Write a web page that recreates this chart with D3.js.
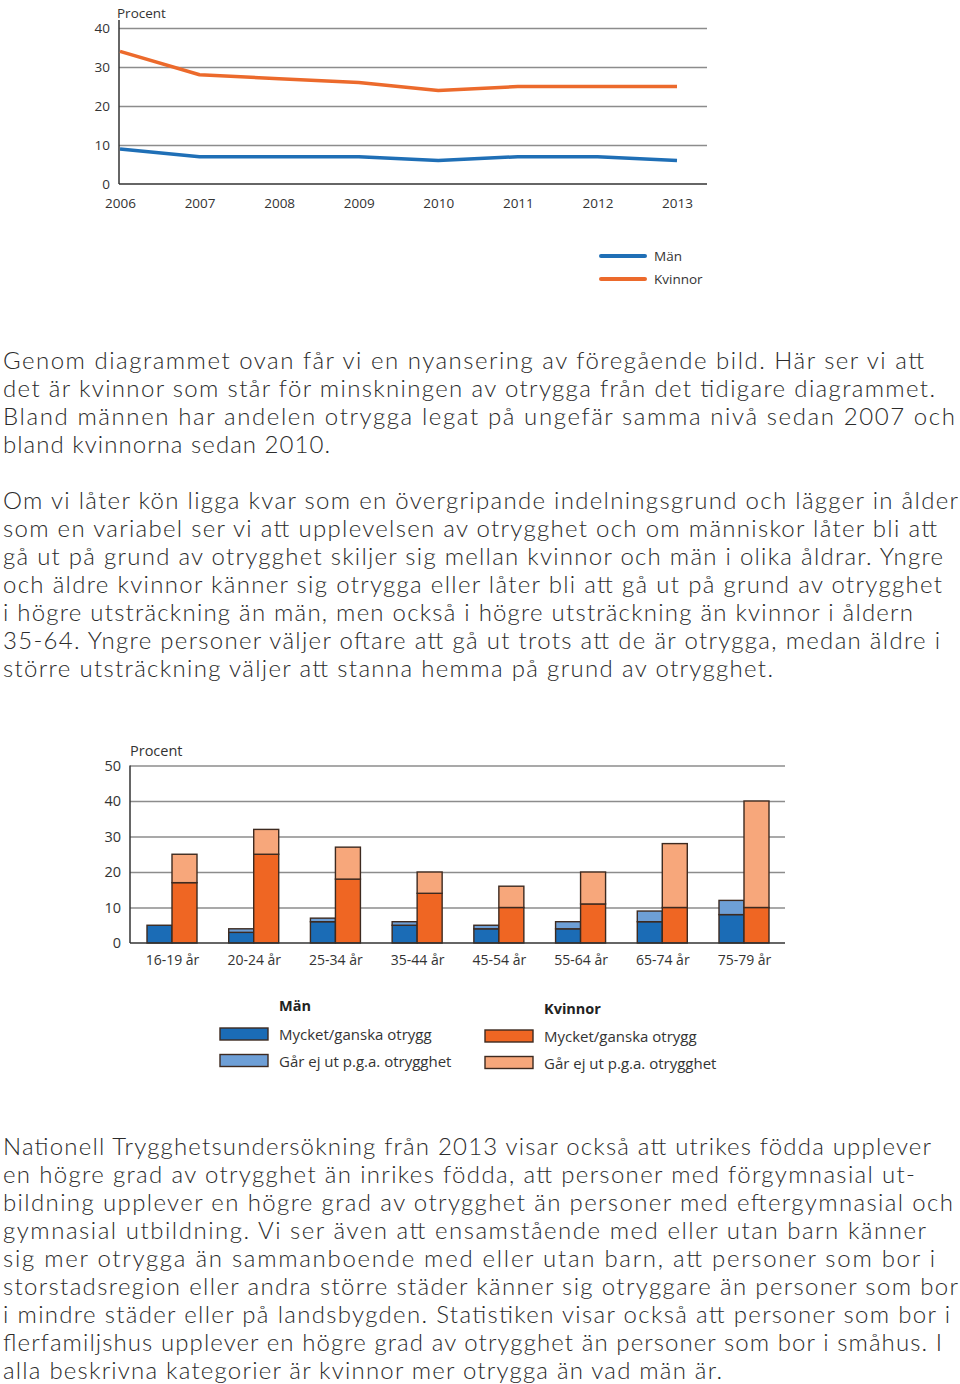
<!DOCTYPE html>
<html>
<head>
<meta charset="utf-8">
<script src="https://cdn.jsdelivr.net/npm/d3@7"></script>
<style>
  html, body { margin: 0; padding: 0; background: #fff; }
  svg { display: block; }
</style>
</head>
<body>
<svg id="page" width="960" height="1384"></svg>
<script>
// ---------- DATA ----------
const years = [2006, 2007, 2008, 2009, 2010, 2011, 2012, 2013];
const manLine = [9, 7, 7, 7, 6, 7, 7, 6];
const kvinnorLine = [34, 28, 27, 26, 24, 25, 25, 25];
const lineTicks = [0, 10, 20, 30, 40];

const ageGroups = ["16-19 år", "20-24 år", "25-34 år", "35-44 år", "45-54 år", "55-64 år", "65-74 år", "75-79 år"];
const manOtrygg = [5, 3, 6, 5, 4, 4, 6, 8];
const manGarEj = [0, 1, 1, 1, 1, 2, 3, 4];
const kvinnorOtrygg = [17, 25, 18, 14, 10, 11, 10, 10];
const kvinnorGarEj = [8, 7, 9, 6, 6, 9, 18, 30];
const barTicks = [0, 10, 20, 30, 40, 50];

const para1 = [
  "Genom diagrammet ovan får vi en nyansering av föregående bild. Här ser vi att",
  "det är kvinnor som står för minskningen av otrygga från det tidigare diagrammet.",
  "Bland männen har andelen otrygga legat på ungefär samma nivå sedan 2007 och",
  "bland kvinnorna sedan 2010."
];
const para2 = [
  "Om vi låter kön ligga kvar som en övergripande indelningsgrund och lägger in ålder",
  "som en variabel ser vi att upplevelsen av otrygghet och om människor låter bli att",
  "gå ut på grund av otrygghet skiljer sig mellan kvinnor och män i olika åldrar. Yngre",
  "och äldre kvinnor känner sig otrygga eller låter bli att gå ut på grund av otrygghet",
  "i högre utsträckning än män, men också i högre utsträckning än kvinnor i åldern",
  "35-64. Yngre personer väljer oftare att gå ut trots att de är otrygga, medan äldre i",
  "större utsträckning väljer att stanna hemma på grund av otrygghet."
];
const para3 = [
  "Nationell Trygghetsundersökning från 2013 visar också att utrikes födda upplever",
  "en högre grad av otrygghet än inrikes födda, att personer med förgymnasial ut-",
  "bildning upplever en högre grad av otrygghet än personer med eftergymnasial och",
  "gymnasial utbildning. Vi ser även att ensamstående med eller utan barn känner",
  "sig mer otrygga än sammanboende med eller utan barn, att personer som bor i",
  "storstadsregion eller andra större städer känner sig otryggare än personer som bor",
  "i mindre städer eller på landsbygden. Statistiken visar också att personer som bor i",
  "flerfamiljshus upplever en högre grad av otrygghet än personer som bor i småhus. I",
  "alla beskrivna kategorier är kvinnor mer otrygga än vad män är."
];

// ---------- LAYOUT (right edge of each text line in the page) ----------
const para1Ends = [924, 935, 955, 330];
const para2Ends = [958, 937, 943, 942, 913, 940, 773];
const para3Ends = [931, 915, 953, 926, 935, 958, 950, 942, 722];

// ---------- STYLE ----------
const C = {
  blue: "#1f6fb6", orange: "#ec6a2c",
  dBlue: "#1b6cb6", lBlue: "#6e9fd6",
  dOrange: "#ef6623", lOrange: "#f7a77b",
  outline: "#3d2a20", grid: "#8c8c8c", axis: "#333", text: "#333"
};
const chartFont = "'Open Sans', 'Noto Sans', sans-serif";
const bodyFont = "Lato, 'Open Sans', sans-serif";

const svg = d3.select("#page");

// ---------- LINE CHART ----------
{
  const g = svg.append("g");
  const x = d3.scalePoint().domain(years).range([120, 677]);
  const y = d3.scaleLinear().domain([0, 40]).range([184, 28]);
  const left = 119, right = 707;

  g.append("g")
    .attr("transform", `translate(${left},0)`)
    .call(d3.axisLeft(y).tickValues(lineTicks.filter(d => d > 0)).tickSize(-(right - left)).tickFormat(""))
    .call(s => s.select(".domain").remove())
    .call(s => s.selectAll("line").attr("stroke", C.grid).attr("stroke-width", 1.3));

  g.append("g")
    .attr("transform", `translate(${left},0)`)
    .call(d3.axisLeft(y).tickValues(lineTicks).tickSize(0).tickPadding(9))
    .call(s => s.select(".domain").remove())
    .call(s => s.selectAll("text").attr("font-family", chartFont).attr("font-size", 13.5).attr("fill", C.text));

  g.append("line").attr("x1", left).attr("x2", right).attr("y1", y(0)).attr("y2", y(0))
    .attr("stroke", C.axis).attr("stroke-width", 1.5);
  g.append("line").attr("x1", left).attr("x2", left).attr("y1", 20).attr("y2", y(0))
    .attr("stroke", C.axis).attr("stroke-width", 1.5);
  g.append("g")
    .attr("transform", `translate(0,${y(0)})`)
    .call(d3.axisBottom(x).tickSize(0).tickPadding(14))
    .call(s => s.select(".domain").remove())
    .call(s => s.selectAll("text").attr("font-family", chartFont).attr("font-size", 13.5).attr("fill", C.text));

  g.append("text").attr("x", 117).attr("y", 18).text("Procent")
    .attr("font-family", chartFont).attr("font-size", 13.5).attr("fill", C.text);

  const line = d3.line().x((d, i) => x(years[i])).y(d => y(d));
  g.append("path").datum(manLine).attr("d", line).attr("fill", "none")
    .attr("stroke", C.blue).attr("stroke-width", 3.5).attr("stroke-linejoin", "round");
  g.append("path").datum(kvinnorLine).attr("d", line).attr("fill", "none")
    .attr("stroke", C.orange).attr("stroke-width", 3.5).attr("stroke-linejoin", "round");

  const leg = [{ name: "Män", c: C.blue }, { name: "Kvinnor", c: C.orange }];
  leg.forEach((d, i) => {
    const yy = 256 + i * 23;
    g.append("line").attr("x1", 601).attr("x2", 645).attr("y1", yy).attr("y2", yy)
      .attr("stroke", d.c).attr("stroke-width", 4).attr("stroke-linecap", "round");
    g.append("text").attr("x", 654).attr("y", yy + 5).text(d.name)
      .attr("font-family", chartFont).attr("font-size", 13.5).attr("fill", C.text);
  });
}

// ---------- BODY TEXT ----------
function paragraph(lines, ends, y0) {
  svg.append("g").selectAll("text").data(lines).join("text")
    .attr("x", 3).attr("y", (d, i) => y0 + i * 28)
    .attr("font-family", bodyFont).attr("font-weight", 300)
    .attr("font-size", 24).attr("fill", "#2b2b2b")
    .attr("textLength", (d, i) => ends[i] - 3)
    .attr("lengthAdjust", "spacing")
    .text(d => d);
}
paragraph(para1, para1Ends, 369);
paragraph(para2, para2Ends, 509);
paragraph(para3, para3Ends, 1155);

// ---------- BAR CHART ----------
{
  const g = svg.append("g");
  const cx = d3.scalePoint().domain(ageGroups).range([172, 744]);
  const y = d3.scaleLinear().domain([0, 50]).range([943, 765.5]);
  const left = 130, right = 785, bw = 25;

  g.append("g")
    .attr("transform", `translate(${left},0)`)
    .call(d3.axisLeft(y).tickValues(barTicks.filter(d => d > 0)).tickSize(-(right - left)).tickFormat(""))
    .call(s => s.select(".domain").remove())
    .call(s => s.selectAll("line").attr("stroke", C.grid).attr("stroke-width", 1.3));

  g.append("g")
    .attr("transform", `translate(${left},0)`)
    .call(d3.axisLeft(y).tickValues(barTicks).tickSize(0).tickPadding(9))
    .call(s => s.select(".domain").remove())
    .call(s => s.selectAll("text").attr("font-family", chartFont).attr("font-size", 14.5).attr("fill", C.text));

  g.append("text").attr("x", 130).attr("y", 756).text("Procent")
    .attr("font-family", chartFont).attr("font-size", 14.5).attr("fill", C.text);

  const segs = [];
  ageGroups.forEach((a, i) => {
    segs.push({ x: cx(a) - bw, y0: 0, y1: manOtrygg[i], fill: C.dBlue });
    segs.push({ x: cx(a) - bw, y0: manOtrygg[i], y1: manOtrygg[i] + manGarEj[i], fill: C.lBlue });
    segs.push({ x: cx(a), y0: 0, y1: kvinnorOtrygg[i], fill: C.dOrange });
    segs.push({ x: cx(a), y0: kvinnorOtrygg[i], y1: kvinnorOtrygg[i] + kvinnorGarEj[i], fill: C.lOrange });
  });
  g.selectAll("rect.seg").data(segs).join("rect").attr("class", "seg")
    .attr("x", d => d.x).attr("width", bw)
    .attr("y", d => y(d.y1)).attr("height", d => y(d.y0) - y(d.y1))
    .attr("fill", d => d.fill).attr("stroke", C.outline).attr("stroke-width", 1.4);

  g.append("line").attr("x1", left).attr("x2", right).attr("y1", y(0)).attr("y2", y(0))
    .attr("stroke", C.axis).attr("stroke-width", 1.5);
  g.append("line").attr("x1", left).attr("x2", left).attr("y1", y(50)).attr("y2", y(0))
    .attr("stroke", C.axis).attr("stroke-width", 1.5);

  g.append("g")
    .attr("transform", `translate(0,${y(0)})`)
    .call(d3.axisBottom(cx).tickSize(0).tickPadding(12))
    .call(s => s.select(".domain").remove())
    .call(s => s.selectAll("text").attr("font-family", chartFont).attr("font-size", 14).attr("fill", C.text));

  const legGroups = [
    { title: "Män", x: 220, ty: 1011, sy: 1028, items: [{ t: "Mycket/ganska otrygg", c: C.dBlue }, { t: "Går ej ut p.g.a. otrygghet", c: C.lBlue }] },
    { title: "Kvinnor", x: 485, ty: 1014, sy: 1030, items: [{ t: "Mycket/ganska otrygg", c: C.dOrange }, { t: "Går ej ut p.g.a. otrygghet", c: C.lOrange }] }
  ];
  legGroups.forEach(lgp => {
    g.append("text").attr("x", lgp.x + 59).attr("y", lgp.ty).text(lgp.title)
      .attr("font-family", chartFont).attr("font-weight", 700).attr("font-size", 14.5).attr("fill", "#222");
    lgp.items.forEach((it, j) => {
      const yy = lgp.sy + j * 26.5;
      g.append("rect").attr("x", lgp.x).attr("y", yy).attr("width", 48).attr("height", 12)
        .attr("fill", it.c).attr("stroke", C.outline).attr("stroke-width", 1.4);
      g.append("text").attr("x", lgp.x + 59).attr("y", yy + 12).text(it.t)
        .attr("font-family", chartFont).attr("font-size", 15).attr("fill", C.text);
    });
  });
}
</script>
</body>
</html>
